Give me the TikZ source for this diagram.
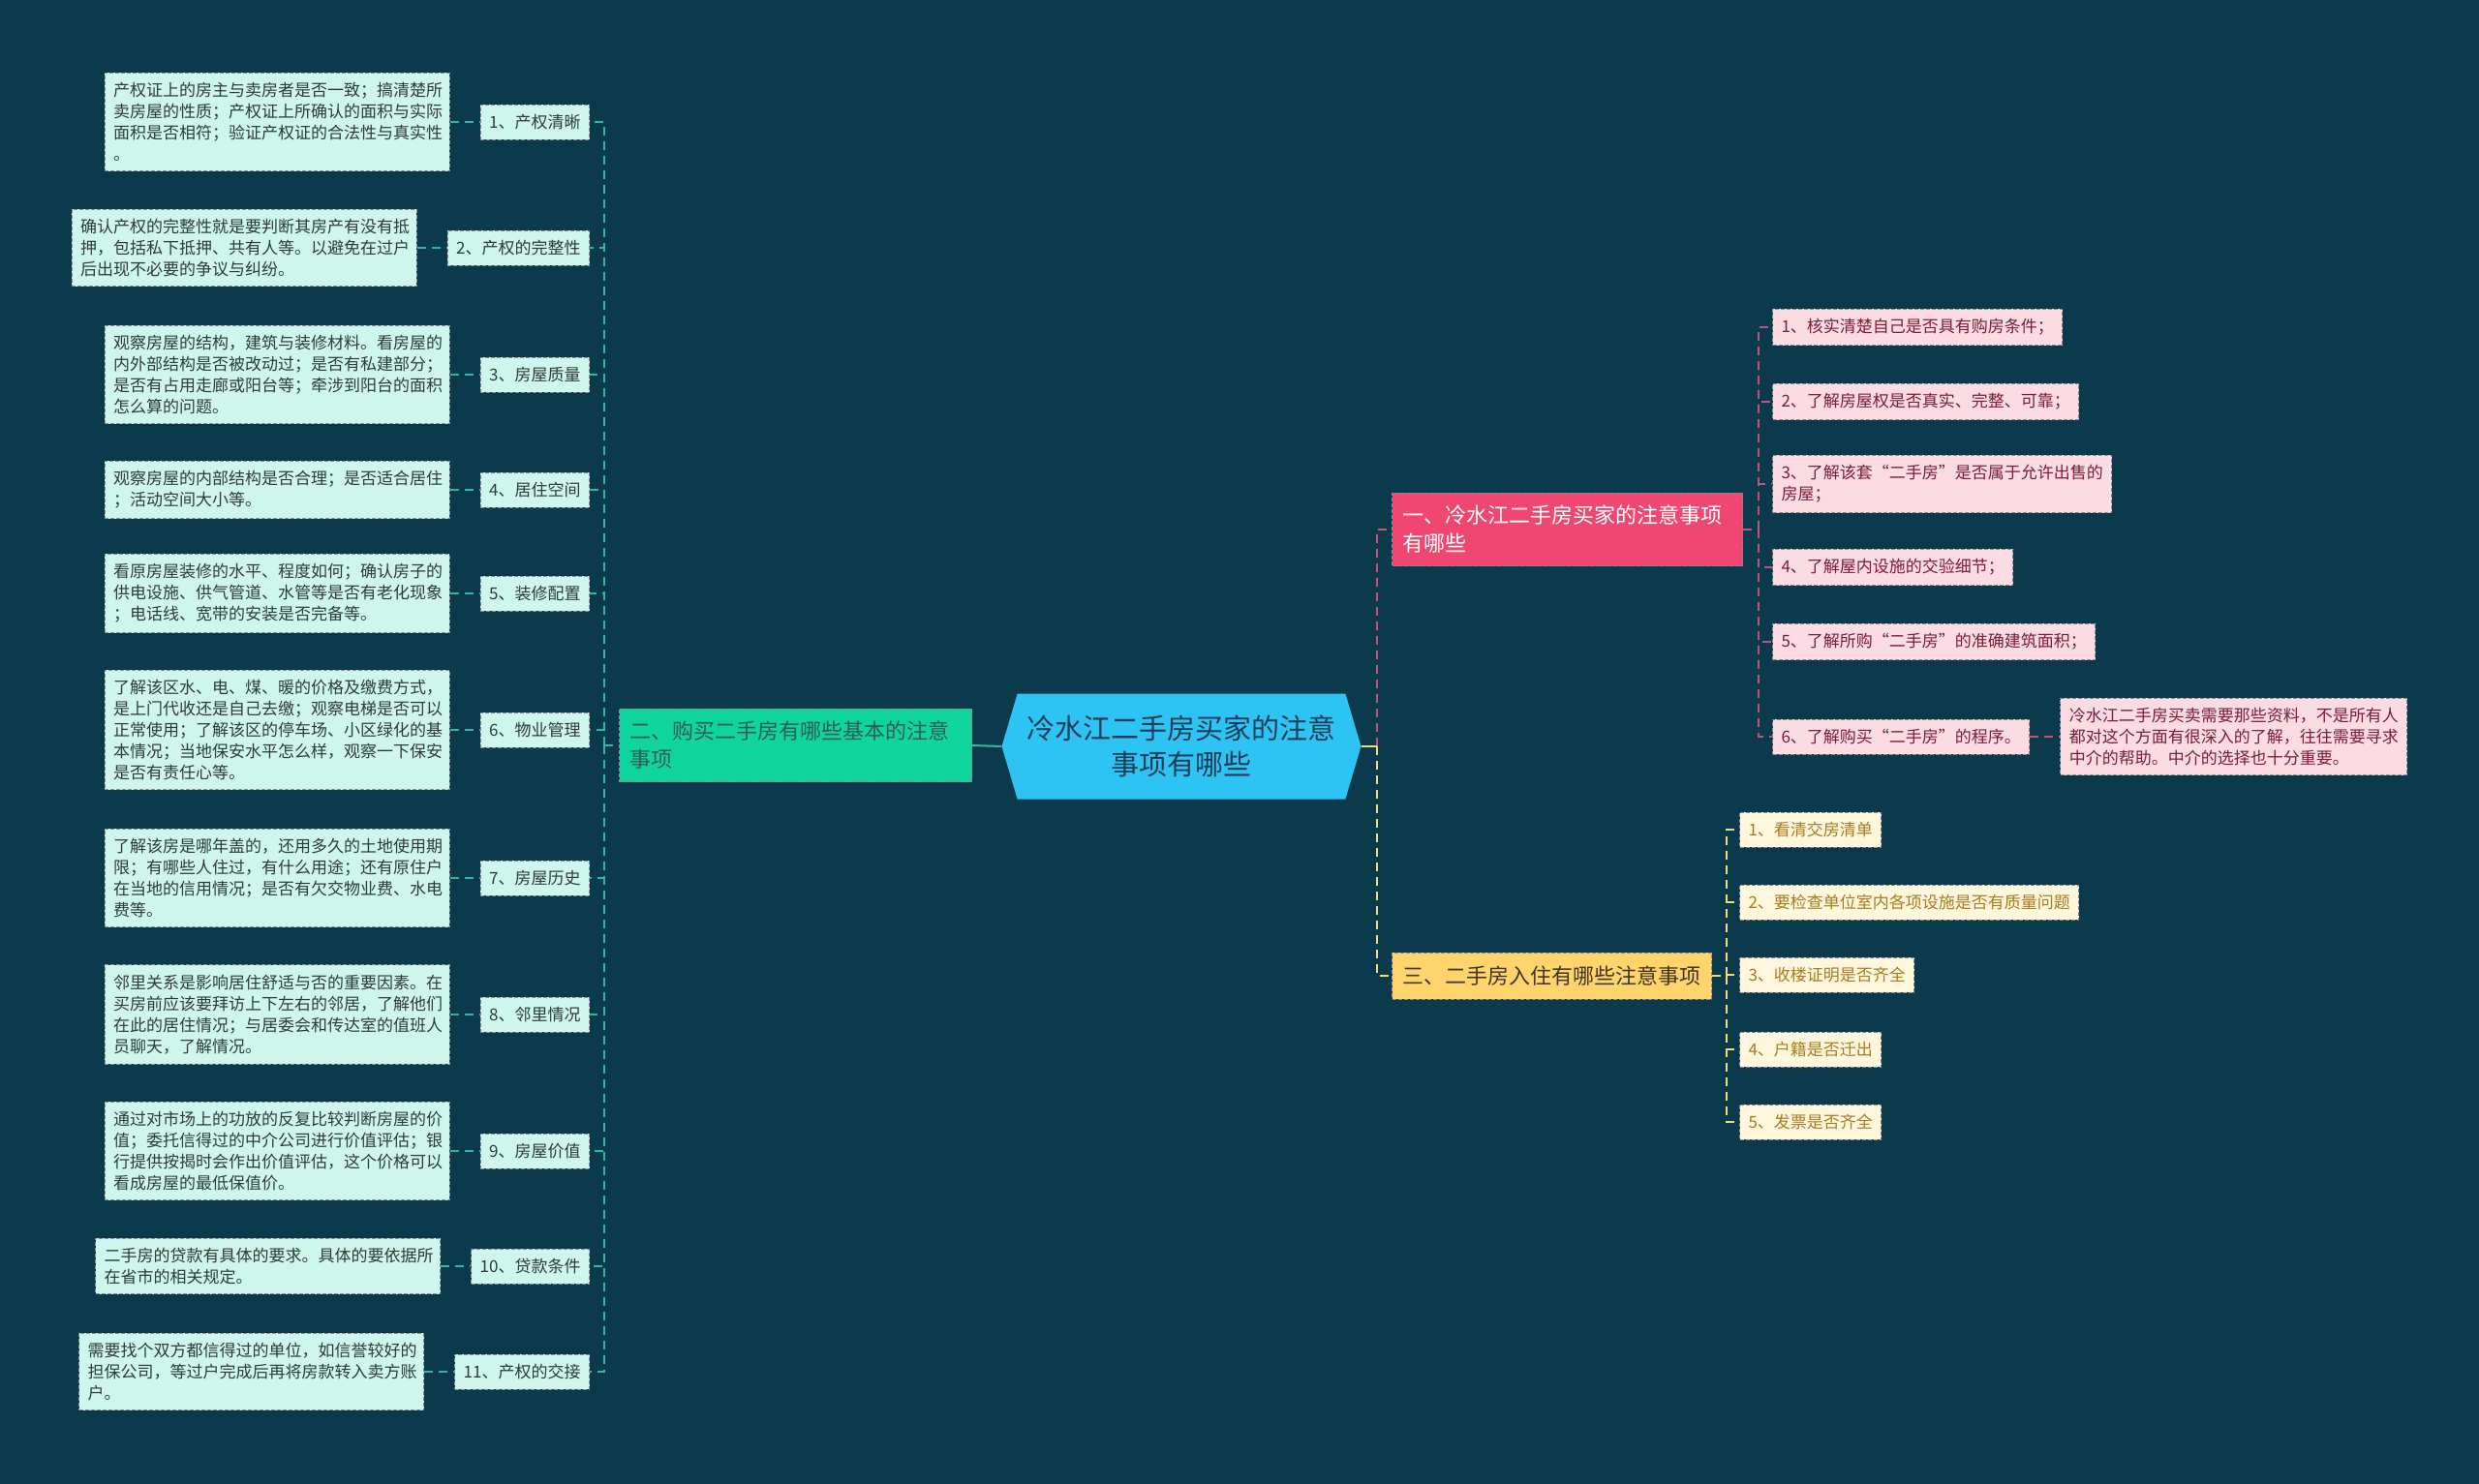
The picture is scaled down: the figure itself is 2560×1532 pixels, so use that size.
\documentclass[tikz,border=0pt]{standalone}
\usepackage{fontspec}
\setmainfont{Noto Sans CJK SC}
\usetikzlibrary{positioning,shapes.symbols}

\definecolor{bgcol}{HTML}{0C3A4D}
\definecolor{hubfill}{HTML}{2DC3F3}
\definecolor{hubtext}{HTML}{1B3D57}
\definecolor{grnfill}{HTML}{0FD49C}
\definecolor{grntext}{HTML}{2E5E58}
\definecolor{grnline}{HTML}{2CB99E}
\definecolor{mintfill}{HTML}{CFF6EC}
\definecolor{minttext}{HTML}{2E3B3A}
\definecolor{pnkfill}{HTML}{EF4771}
\definecolor{pnkline}{HTML}{C4527A}
\definecolor{pnkpale}{HTML}{FCDCE3}
\definecolor{pnktext}{HTML}{7A1C3A}
\definecolor{ylwfill}{HTML}{FFD46C}
\definecolor{ylwtext}{HTML}{3E3620}
\definecolor{ylwline}{HTML}{F2DC7E}
\definecolor{ylwpale}{HTML}{FFF6DE}
\definecolor{ylwdark}{HTML}{A67C1F}

\newcommand\smallfont{\fontsize{17}{22}\selectfont}
\newcommand\bigfont{\fontsize{22}{29}\selectfont}

\tikzset{
  box/.style={draw=black!45, dash pattern=on 4pt off 2pt, line width=1pt,
    inner xsep=9pt, inner ysep=10pt, minimum height=36pt,
    font=\smallfont, align=left},
  grnitem/.style={box, fill=mintfill, text=minttext},
  grnnote/.style={grnitem, text width=338pt},
  pnkitem/.style={box, fill=pnkpale, text=pnktext},
  ylwitem/.style={box, fill=ylwpale, text=ylwdark},
  mainbox/.style={box, font=\bigfont, inner xsep=11pt, inner ysep=13pt},
  hub/.style={shape=signal, signal to=west and east, signal pointer angle=147,
    fill=hubfill, text=hubtext, minimum width=371pt, minimum height=109pt,
    font=\fontsize{29}{37}\selectfont, align=center},
  grnlink/.style={draw=grnline, dash pattern=on 9pt off 6pt, line width=2pt},
  pnklink/.style={draw=pnkline, dash pattern=on 9pt off 6pt, line width=2pt},
  ylwlink/.style={draw=ylwline, dash pattern=on 9pt off 6pt, line width=2pt}
}

% left branch: id, y, label, note
\newcommand\leftitem[4]{
  \node[grnitem, anchor=east] (l#1) at (609,#2) {#3};
  \node[grnnote, left=31pt of l#1] (d#1) {#4};
  \draw[grnlink] (sp2) |- (l#1.east);
  \draw[grnlink] (d#1.east) -- (l#1.west);
}
% right branches: id, y, text
\newcommand\pnkitemat[3]{
  \node[pnkitem, anchor=west] (p#1) at (1830,#2) {#3};
  \draw[pnklink] (sp1) |- (p#1.west);
}
\newcommand\ylwitemat[3]{
  \node[ylwitem, anchor=west] (y#1) at (1796,#2) {#3};
  \draw[ylwlink] (sp3) |- (y#1.west);
}

\begin{document}
\begin{tikzpicture}[x=1pt, y=-1pt]
  \useasboundingbox (0,0) rectangle (2560,1532);
  \fill[bgcol] (-10,-10) rectangle (2570,1542);

  \node[hub] (hub) at (1220,771) {冷水江二手房买家的注意\\事项有哪些};

  \node[mainbox, fill=grnfill, text=grntext, text width=342pt, anchor=east] (b2)
    at (1004,770) {二、购买二手房有哪些基本的注意\\事项};
  \node[mainbox, fill=pnkfill, text=white, text width=340pt, anchor=west] (b1)
    at (1437,547) {一、冷水江二手房买家的注意事项\\有哪些};
  \node[mainbox, fill=ylwfill, text=ylwtext, anchor=west, minimum height=48pt] (b3)
    at (1437,1008) {三、二手房入住有哪些注意事项};

  \coordinate (jn) at (1422,771);
  \coordinate (sp2) at (624,770);
  \coordinate (sp1) at (1816,547);
  \coordinate (sp3) at (1783,1008);

  \draw[grnline, line width=2pt] (hub.west) -- (b2.east);
  \draw[grnlink] (sp2) -- (b2.west);
  \draw[pnklink] (jn) |- (b1.west);
  \draw[ylwlink] (jn) |- (b3.west);
  \draw[ylwline, line width=2pt] (hub.east) -- (jn);
  \draw[pnklink] (b1.east) -- (sp1);
  \draw[ylwlink] (b3.east) -- (sp3);

  \leftitem{1}{126}{1、产权清晰}{产权证上的房主与卖房者是否一致；搞清楚所\\卖房屋的性质；产权证上所确认的面积与实际\\面积是否相符；验证产权证的合法性与真实性\\。}
  \leftitem{2}{256}{2、产权的完整性}{确认产权的完整性就是要判断其房产有没有抵\\押，包括私下抵押、共有人等。以避免在过户\\后出现不必要的争议与纠纷。}
  \leftitem{3}{387}{3、房屋质量}{观察房屋的结构，建筑与装修材料。看房屋的\\内外部结构是否被改动过；是否有私建部分；\\是否有占用走廊或阳台等；牵涉到阳台的面积\\怎么算的问题。}
  \leftitem{4}{506}{4、居住空间}{观察房屋的内部结构是否合理；是否适合居住\\；活动空间大小等。}
  \leftitem{5}{613}{5、装修配置}{看原房屋装修的水平、程度如何；确认房子的\\供电设施、供气管道、水管等是否有老化现象\\；电话线、宽带的安装是否完备等。}
  \leftitem{6}{754}{6、物业管理}{了解该区水、电、煤、暖的价格及缴费方式，\\是上门代收还是自己去缴；观察电梯是否可以\\正常使用；了解该区的停车场、小区绿化的基\\本情况；当地保安水平怎么样，观察一下保安\\是否有责任心等。}
  \leftitem{7}{907}{7、房屋历史}{了解该房是哪年盖的，还用多久的土地使用期\\限；有哪些人住过，有什么用途；还有原住户\\在当地的信用情况；是否有欠交物业费、水电\\费等。}
  \leftitem{8}{1048}{8、邻里情况}{邻里关系是影响居住舒适与否的重要因素。在\\买房前应该要拜访上下左右的邻居，了解他们\\在此的居住情况；与居委会和传达室的值班人\\员聊天，了解情况。}
  \leftitem{9}{1189}{9、房屋价值}{通过对市场上的功放的反复比较判断房屋的价\\值；委托信得过的中介公司进行价值评估；银\\行提供按揭时会作出价值评估，这个价格可以\\看成房屋的最低保值价。}
  \leftitem{10}{1308}{10、贷款条件}{二手房的贷款有具体的要求。具体的要依据所\\在省市的相关规定。}
  \leftitem{11}{1417}{11、产权的交接}{需要找个双方都信得过的单位，如信誉较好的\\担保公司，等过户完成后再将房款转入卖方账\\户。}

  \pnkitemat{1}{338}{1、核实清楚自己是否具有购房条件；}
  \pnkitemat{2}{415}{2、了解房屋权是否真实、完整、可靠；}
  \pnkitemat{3}{500}{3、了解该套“二手房”是否属于允许出售的\\房屋；}
  \pnkitemat{4}{586}{4、了解屋内设施的交验细节；}
  \pnkitemat{5}{663}{5、了解所购“二手房”的准确建筑面积；}
  \pnkitemat{6}{761}{6、了解购买“二手房”的程序。}
  \node[pnkitem, right=31pt of p6] (n6) {冷水江二手房买卖需要那些资料，不是所有人\\都对这个方面有很深入的了解，往往需要寻求\\中介的帮助。中介的选择也十分重要。};
  \draw[pnklink] (p6.east) -- (n6.west);

  \ylwitemat{1}{857}{1、看清交房清单}
  \ylwitemat{2}{932}{2、要检查单位室内各项设施是否有质量问题}
  \ylwitemat{3}{1007}{3、收楼证明是否齐全}
  \ylwitemat{4}{1084}{4、户籍是否迁出}
  \ylwitemat{5}{1159}{5、发票是否齐全}
\end{tikzpicture}
\end{document}
